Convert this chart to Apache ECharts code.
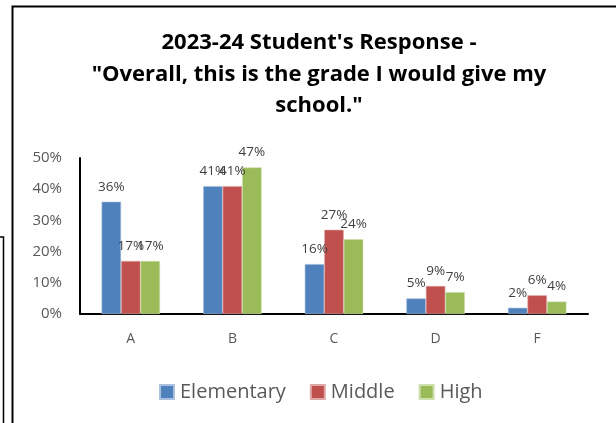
<!DOCTYPE html>
<html>
<head>
<meta charset="utf-8">
<script src="https://cdn.jsdelivr.net/npm/echarts@6/dist/echarts.min.js"></script>
<style>
html,body{margin:0;padding:0;background:#fff;}
#main{width:616px;height:423px;}
</style>
</head>
<body>
<div id="main"></div>
<script>
// 数据
var grades = ['A', 'B', 'C', 'D', 'F'];
var elementary = [36, 41, 16, 5, 2];
var middle = [17, 41, 27, 9, 6];
var high = [17, 47, 24, 7, 4];
var yTicks = [0, 10, 20, 30, 40, 50];

var myChart = echarts.init(document.getElementById('main'));
var labelStyle = {
    show: true,
    position: 'top',
    distance: 8,
    color: '#404040',
    fontSize: 13.5,
    fontFamily: 'Open Sans',
    formatter: '{c}%'
};
var option = {
    backgroundColor: '#fff',
    animation: false,
    title: {
        text: "2023-24 Student's Response -\n\"Overall, this is the grade I would give my\nschool.\"",
        left: 314,
        top: 22,
        textAlign: 'center',
        textStyle: {
            fontFamily: 'Open Sans',
            fontWeight: 'bold',
            fontSize: 22,
            lineHeight: 31.5,
            color: '#000'
        }
    },
    legend: {
        data: ['Elementary', 'Middle', 'High'],
        left: 154,
        top: 377,
        itemWidth: 14,
        itemHeight: 14,
        itemGap: 24,
        icon: 'rect',
        textStyle: {
            fontFamily: 'Open Sans',
            fontSize: 20,
            color: '#595959',
            padding: [0, 0, 0, 1]
        }
    },
    grid: {
        left: 80,
        right: 28,
        top: 158,
        bottom: 109
    },
    xAxis: {
        type: 'category',
        data: grades,
        axisLine: {lineStyle: {color: '#000', width: 2}},
        axisTick: {show: false},
        axisLabel: {
            color: '#595959',
            fontFamily: 'Open Sans',
            fontSize: 14,
            margin: 18
        }
    },
    yAxis: {
        type: 'value',
        min: yTicks[0],
        max: yTicks[yTicks.length - 1],
        interval: 10,
        axisLine: {show: true, lineStyle: {color: '#000', width: 2}},
        axisTick: {show: false},
        splitLine: {show: false},
        axisLabel: {
            formatter: '{value}%',
            color: '#595959',
            fontFamily: 'Open Sans',
            fontSize: 15,
            margin: 18
        }
    },
    series: [
        {
            name: 'Elementary',
            type: 'bar',
            data: elementary,
            barWidth: 19.5,
            barGap: '0%',
            itemStyle: {color: '#4F81BD', borderColor: '#a9c0de', borderWidth: 0.6},
            label: labelStyle
        },
        {
            name: 'Middle',
            type: 'bar',
            data: middle,
            barWidth: 19.5,
            barGap: '0%',
            itemStyle: {color: '#C0504D', borderColor: '#e0a9a7', borderWidth: 0.6},
            label: labelStyle
        },
        {
            name: 'High',
            type: 'bar',
            data: high,
            barWidth: 19.5,
            barGap: '0%',
            itemStyle: {color: '#9BBB59', borderColor: '#cde0ae', borderWidth: 0.6},
            label: labelStyle
        }
    ],
    graphic: [
        {
            type: 'rect',
            shape: {x: 12.5, y: 6.5, width: 700, height: 500},
            style: {fill: 'none', stroke: '#000', lineWidth: 2},
            silent: true
        },
        {
            type: 'polyline',
            shape: {points: [[0, 237], [3.5, 237], [3.5, 430]]},
            style: {fill: 'none', stroke: '#000', lineWidth: 1.5},
            silent: true
        }
    ]
};
myChart.setOption(option);
</script>
</body>
</html>
